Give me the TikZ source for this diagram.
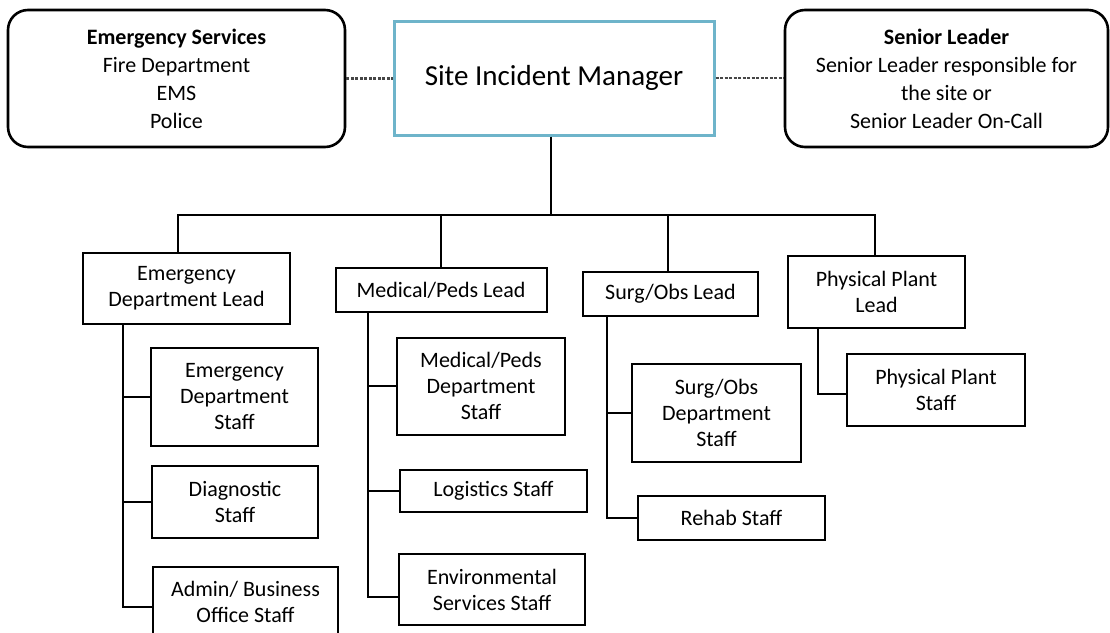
\documentclass[tikz,border=0pt]{standalone}
\usepackage{fontspec}
\setmainfont{Carlito}
\definecolor{simteal}{RGB}{110,180,202}
\definecolor{dashgray}{RGB}{70,70,70}
\tikzset{
  topbox/.style={draw=black, line width=2.6pt, rounded corners=20pt, align=center, inner sep=0pt,
    font=\fontsize{22}{28}\selectfont},
  simbox/.style={draw=simteal, line width=3pt, align=center, inner sep=0pt,
    font=\fontsize{29}{34}\selectfont},
  orgbox/.style={draw=black, line width=2pt, align=center, inner sep=0pt,
    font=\fontsize{22}{26}\selectfont},
  link/.style={draw=black, line width=2pt},
  dashlink/.style={draw=dashgray, line width=2.4pt, dash pattern=on 3pt off 1.5pt}
}
\begin{document}
\begin{tikzpicture}[x=1pt,y=-1pt]
\useasboundingbox (0,0) rectangle (1110,632);
\clip (0,0) rectangle (1110,632);
% top row
\node[topbox, minimum width=337pt, minimum height=137pt] (es) at (176.5,78.5)
  {\textbf{Emergency Services}\\Fire Department\\EMS\\Police};
\node[simbox, minimum width=320pt, minimum height=114pt] (sim) at (554,78) {Site Incident Manager};
\node[topbox, minimum width=323pt, minimum height=137pt] (sl) at (946.5,78.5)
  {\textbf{Senior Leader}\\Senior Leader responsible for\\the site or\\Senior Leader On-Call};
% leads
\node[orgbox, minimum width=207pt, minimum height=71pt] (edl) at (186.5,288.5) {Emergency\\Department Lead};
\node[orgbox, minimum width=211pt, minimum height=44pt] (mpl) at (441,290) {Medical/Peds Lead};
\node[orgbox, minimum width=175pt, minimum height=44pt] (sol) at (670.5,294) {Surg/Obs Lead};
\node[orgbox, minimum width=177pt, minimum height=72pt] (ppl) at (876.5,292) {Physical Plant\\Lead};
% staff
\node[orgbox, minimum width=167pt, minimum height=98pt] (eds) at (234.5,397) {Emergency\\Department\\Staff};
\node[orgbox, minimum width=166pt, minimum height=72pt] (diag) at (235,502) {Diagnostic\\Staff};
\node[orgbox, minimum width=185pt, minimum height=70pt] (admin) at (245.5,602) {Admin/ Business\\Office Staff};
\node[orgbox, minimum width=168pt, minimum height=97pt] (mps) at (481,386) {Medical/Peds\\Department\\Staff};
\node[orgbox, minimum width=187pt, minimum height=42pt] (log) at (493.5,491) {Logistics Staff};
\node[orgbox, minimum width=186pt, minimum height=71pt] (env) at (492,589.5) {Environmental\\Services Staff};
\node[orgbox, minimum width=169pt, minimum height=98pt] (sos) at (716.5,413) {Surg/Obs\\Department\\Staff};
\node[orgbox, minimum width=187pt, minimum height=44pt] (rehab) at (731.5,518) {Rehab Staff};
\node[orgbox, minimum width=178pt, minimum height=72pt] (pps) at (936,390) {Physical Plant\\Staff};
% dashed links
\draw[dashlink] (es.east) -- (es.east -| sim.west);
\draw[dashlink] (sim.east) -- (sim.east -| sl.west);
% bus
\coordinate (bus) at (551,215);
\draw[link] ([xshift=-3pt]sim.south) -- (bus);
\draw[link] ([xshift=-8.5pt]edl.north) |- (bus);
\draw[link] (mpl.north) |- (bus);
\draw[link] ([xshift=-2.5pt]sol.north) |- (bus);
\draw[link] ([xshift=-1.5pt]ppl.north) |- (bus);
% ED trunk
\coordinate (edt) at ([xshift=41pt]edl.south west);
\draw[link] (edt) |- ([yshift=-5pt]admin.west);
\draw[link] (eds.west) -- (eds.west -| edt);
\draw[link] (diag.west) -- (diag.west -| edt);
% Medical trunk
\coordinate (mpt) at ([xshift=33.5pt]mpl.south west);
\draw[link] (mpt) |- ([yshift=-7.5pt]env.west);
\draw[link] (mps.west) -- (mps.west -| mpt);
\draw[link] (log.west) -- (log.west -| mpt);
% Surg trunk
\coordinate (sot) at ([xshift=25pt]sol.south west);
\draw[link] (sot) |- (rehab.west);
\draw[link] (sos.west) -- (sos.west -| sot);
% PP trunk
\coordinate (ppt) at ([xshift=31pt]ppl.south west);
\draw[link] (ppt) |- ([yshift=-4pt]pps.west);
\end{tikzpicture}
\end{document}
